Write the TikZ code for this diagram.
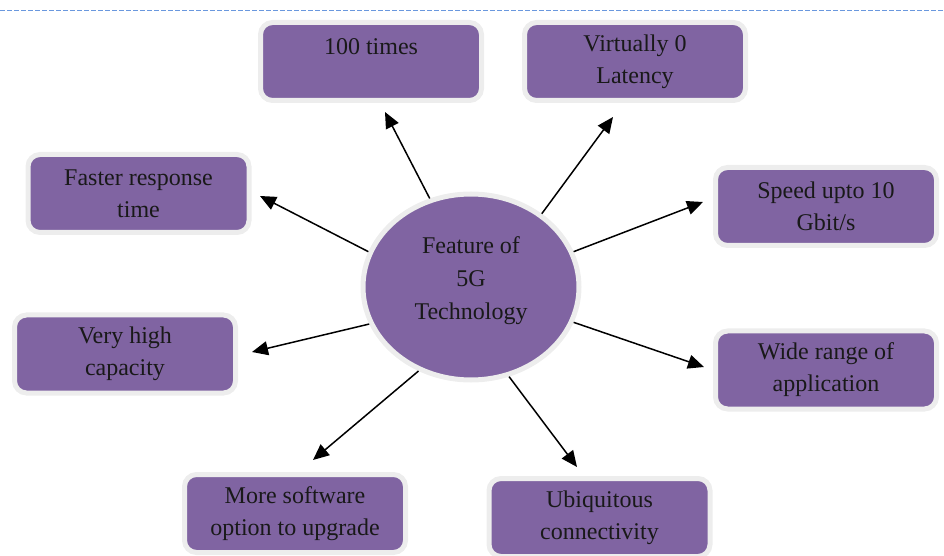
\documentclass[tikz,border=0pt]{standalone}
\usepackage{fontspec}
\setmainfont{Liberation Serif}
\usepackage{tikz}
\usetikzlibrary{shapes.geometric, positioning}
\usetikzlibrary{arrows.meta}
\tikzset{>={Triangle[width=7pt,length=8pt]}}
\definecolor{featpurple}{HTML}{8064A2}
\definecolor{ringgray}{HTML}{EDEDED}
\definecolor{pageblue}{HTML}{6A98DE}

\begin{document}
\begin{tikzpicture}[x=0.5pt, y=-0.5pt, on grid, featnode/.style={rectangle, rounded corners=6pt, draw=ringgray, line width=2.5pt, fill=featpurple, minimum width=110.5pt, minimum height=39pt, align=center, text=black!90, font=\fontsize{12}{16}\selectfont}, hubnode/.style={ellipse, draw=ringgray, line width=2.5pt, fill=featpurple, minimum width=108pt, minimum height=93pt, inner sep=0pt, align=center, text=black!90, font=\fontsize{12}{16.5}\selectfont}, arrowline/.style={->, line width=0.75pt, black}]
    \useasboundingbox (0,0) rectangle (944,556);
    \draw[pageblue, line width=0.5pt, dash pattern=on 2.5pt off 1pt] (0,11) -- (944,11);

    %Nodes
    \node[hubnode, text depth=8.5pt](hub) at (471,287){Feature of\\5G\\Technology};

    \node[featnode, text depth=15pt](hundred)[above left=112.75pt and 50pt of hub]{100 times};
    \node[featnode](latency)[above right=112.75pt and 82pt of hub]{Virtually 0\\Latency};
    \node[featnode](faster)[above left=46.75pt and 166.25pt of hub]{Faster response\\time};
    \node[featnode](speed)[above right=40.25pt and 177.5pt of hub]{Speed upto 10\\Gbit/s};
    \node[featnode](capacity)[below left=33.5pt and 173pt of hub]{Very high\\capacity};
    \node[featnode](wide)[below right=41.5pt and 177.5pt of hub]{Wide range of\\application};
    \node[featnode](software)[below left=113.25pt and 88pt of hub]{More software\\option to upgrade};
    \node[featnode](ubiq)[below right=115.25pt and 64.25pt of hub]{Ubiquitous\\connectivity};

    %Arrow ends
    \coordinate (hundred_tip) at (385,112);
    \coordinate (latency_tip) at (613,117);
    \coordinate (faster_tip) at (260,196);
    \coordinate (speed_tip) at (703,202);
    \coordinate (capacity_tip) at (252,352);
    \coordinate (wide_tip) at (704,367);
    \coordinate (software_tip) at (313,460);
    \coordinate (ubiq_tip) at (577,467);

    %Lines
    \draw[arrowline] (hub.115) -- (hundred_tip);
    \draw[arrowline] (hub.46) -- (latency_tip);
    \draw[arrowline] (hub.161) -- (faster_tip);
    \draw[arrowline] (hub.19) -- (speed_tip);
    \draw[arrowline] (hub.200) -- (capacity_tip);
    \draw[arrowline] (hub.341) -- (wide_tip);
    \draw[arrowline] (hub.238) -- (software_tip);
    \draw[arrowline] (hub.293) -- (ubiq_tip);

\end{tikzpicture}
\end{document}
